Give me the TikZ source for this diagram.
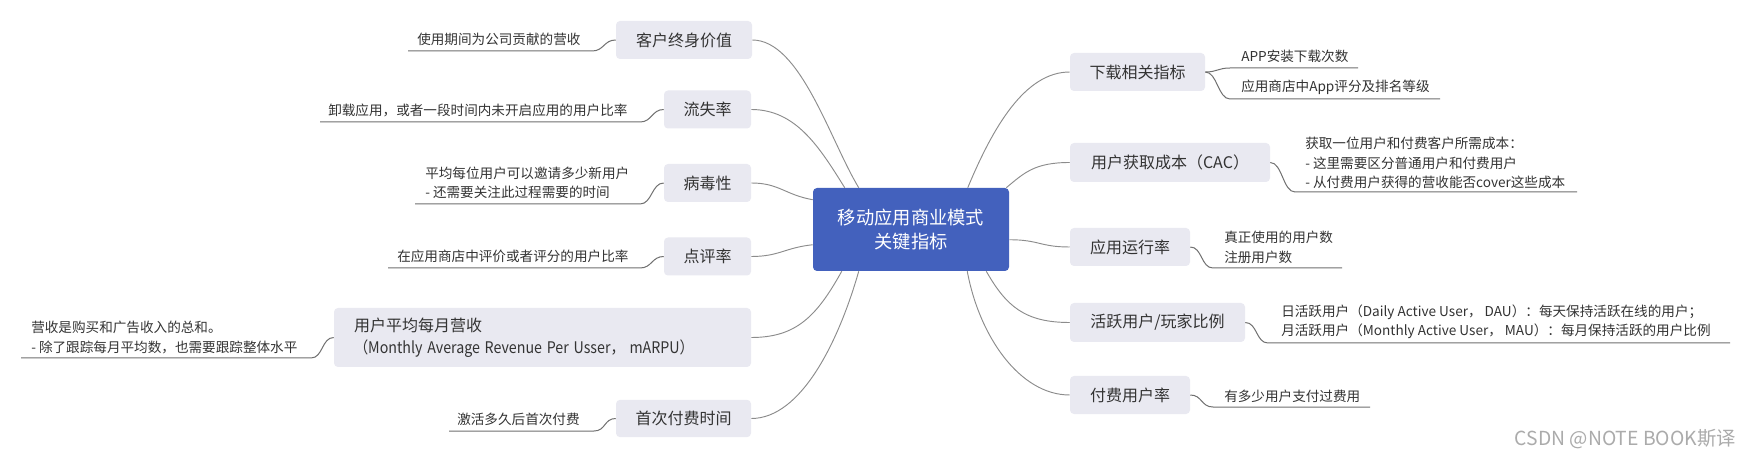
\documentclass[tikz,border=0pt]{standalone}
\usepackage{graphicx}
\usepackage{fontspec}
\setmainfont{Noto Sans CJK SC}
\usetikzlibrary{calc}
\definecolor{rootblue}{HTML}{4361BD}
\definecolor{topicfill}{HTML}{E9E9F1}
\definecolor{txt}{HTML}{333333}
\definecolor{conn}{HTML}{8C8C8C}
\definecolor{uline}{HTML}{707070}
\definecolor{wmgray}{HTML}{ABABAB}
\begin{document}
\begin{tikzpicture}[x=0.75pt,y=-0.75pt,
 root/.style={fill=rootblue, text=white, rounded corners=3pt, font=\fontsize{13.7}{18}\selectfont, align=center, minimum width=147pt, minimum height=62.25pt, inner sep=0pt},
 topic/.style={fill=topicfill, text=txt, rounded corners=3pt, font=\fontsize{12}{16.5}\selectfont, inner sep=0pt},
 leaf/.style={text=txt, anchor=west, inner sep=0pt, align=left, font=\fontsize{10.2}{14.5}\selectfont},
 branch/.style={draw=conn, line width=0.7pt},
 under/.style={draw=uline, line width=0.75pt}]
\useasboundingbox[fill=white] (0,0) rectangle (1752,459);

\node[root] (root) at (911,229.5) {移动应用商业模式\\关键指标};

% left topics
\node[topic, minimum width=102pt, minimum height=28.5pt] (ltv) at (684,40) {客户终身价值};
\node[topic, minimum width=65.25pt, minimum height=28.5pt] (churn) at (707.5,109.5) {流失率};
\node[topic, minimum width=65.25pt, minimum height=28.5pt] (viral) at (707.5,183) {病毒性};
\node[topic, minimum width=65.25pt, minimum height=28.5pt] (review) at (707.5,256.5) {点评率};
\node[topic, minimum width=312.75pt, minimum height=44.25pt, inner xsep=15pt, text width=282.75pt, align=left] (arpu) at (542.5,337.5) {用户平均每月营收\\\scalebox{0.89}[1]{（Monthly Average Revenue Per Usser， mARPU）}};
\node[topic, minimum width=101.25pt, minimum height=28pt] (first) at (683.5,418.5) {首次付费时间};

% right topics
\node[topic, minimum width=101.25pt, minimum height=28.5pt] (download) at (1137.5,72) {下载相关指标};
\node[topic, minimum width=150pt, minimum height=29.25pt] (cac) at (1170,162.5) {用户获取成本（CAC）};
\node[topic, minimum width=90pt, minimum height=28.5pt] (run) at (1130,247) {应用运行率};
\node[topic, minimum width=131.25pt, minimum height=29.25pt] (active) at (1157.5,322.5) {活跃用户/玩家比例};
\node[topic, minimum width=90pt, minimum height=28.5pt] (payrate) at (1130,395) {付费用户率};

% leaves
\node[leaf] (l1) at (417,39) {使用期间为公司贡献的营收};
\node[leaf] (l2) at (328,110) {卸载应用，或者一段时间内未开启应用的用户比率};
\node[leaf] (l3) at (425,183) {平均每位用户可以邀请多少新用户\\- 还需要关注此过程需要的时间};
\node[leaf] (l4) at (397,256) {在应用商店中评价或者评分的用户比率};
\node[leaf] (l5) at (31,337.5) {营收是购买和广告收入的总和。\\- 除了跟踪每月平均数，也需要跟踪整体水平};
\node[leaf] (l6) at (457,419) {激活多久后首次付费};
\node[leaf] (r1a) at (1241,56) {APP安装下载次数};
\node[leaf] (r1b) at (1241,87) {应用商店中App评分及排名等级};
\node[leaf] (r2) at (1305,163) {获取一位用户和付费客户所需成本：\\- 这里需要区分普通用户和付费用户\\- 从付费用户获得的营收能否cover这些成本};
\node[leaf] (r3) at (1224,247.5) {真正使用的用户数\\注册用户数};
\node[leaf] (r4) at (1281,322) {日活跃用户（Daily Active User， DAU）：每天保持活跃在线的用户；\\月活跃用户（Monthly Active User， MAU）：每月保持活跃的用户比例};
\node[leaf] (r5) at (1224,396) {有多少用户支付过费用};

% underline coordinates
\coordinate (u1s) at (408,51);   \coordinate (u1e) at (592,51);
\coordinate (u2s) at (320,122);  \coordinate (u2e) at (640,122);
\coordinate (u3s) at (415,204);  \coordinate (u3e) at (640,204);
\coordinate (u4s) at (388,268);  \coordinate (u4e) at (640,268);
\coordinate (u5s) at (21,358);   \coordinate (u5e) at (311,358);
\coordinate (u6s) at (449,431);  \coordinate (u6e) at (594,431);
\coordinate (v1as) at (1230,68); \coordinate (v1ae) at (1358,68);
\coordinate (v1bs) at (1230,99); \coordinate (v1be) at (1440,99);
\coordinate (v2s) at (1295,192); \coordinate (v2e) at (1577,192);
\coordinate (v3s) at (1213,268); \coordinate (v3e) at (1342,268);
\coordinate (v4s) at (1268,343); \coordinate (v4e) at (1730,343);
\coordinate (v5s) at (1213,407); \coordinate (v5e) at (1370,407);

% leaf underlines
\draw[under] (ltv.west) .. controls +(-12,0) and +(12,0) .. (u1e) -- (u1s);
\draw[under] (churn.west) .. controls +(-12,0) and +(12,0) .. (u2e) -- (u2s);
\draw[under] (viral.west) .. controls +(-12,0) and +(12,0) .. (u3e) -- (u3s);
\draw[under] (review.west) .. controls +(-12,0) and +(12,0) .. (u4e) -- (u4s);
\draw[under] (arpu.west) .. controls +(-12,0) and +(12,0) .. (u5e) -- (u5s);
\draw[under] (first.west) .. controls +(-12,0) and +(12,0) .. (u6e) -- (u6s);
\draw[under] (download.east) .. controls +(12,0) and +(-12,0) .. (v1as) -- (v1ae);
\draw[under] (download.east) .. controls +(12,0) and +(-12,0) .. (v1bs) -- (v1be);
\draw[under] (cac.east) .. controls +(12,0) and +(-12,0) .. (v2s) -- (v2e);
\draw[under] (run.east) .. controls +(12,0) and +(-12,0) .. (v3s) -- (v3e);
\draw[under] (active.east) .. controls +(12,0) and +(-12,0) .. (v4s) -- (v4e);
\draw[under] (payrate.east) .. controls +(12,0) and +(-12,0) .. (v5s) -- (v5e);

% branches from root
\draw[branch] (ltv.east) .. controls +(48,0) and +(-29,-48) .. ($(root.north west)+(46,0)$);
\draw[branch] (churn.east) .. controls +(45,0) and +(-25,-40) .. ($(root.north west)+(32,0)$);
\draw[branch] (viral.east) .. controls +(28,0) and +(-28,-5) .. ($(root.north west)+(0,12)$);
\draw[branch] (review.east) .. controls +(28,0) and +(-28,3) .. ($(root.north west)+(0,57)$);
\draw[branch] (arpu.east) .. controls +(45,0) and +(-25,45) .. ($(root.south west)+(29,0)$);
\draw[branch] (first.east) .. controls +(50,0) and +(-20,70) .. ($(root.south west)+(46,0)$);
\draw[branch] (download.west) .. controls +(-45,0) and +(25,-60) .. ($(root.north west)+(155,0)$);
\draw[branch] (cac.west) .. controls +(-35,0) and +(18,-15) .. ($(root.north east)+(-3,0)$);
\draw[branch] (run.west) .. controls +(-30,0) and +(30,0) .. ($(root.north east)+(0,52)$);
\draw[branch] (active.west) .. controls +(-45,0) and +(20,35) .. ($(root.south east)+(-23,0)$);
\draw[branch] (payrate.west) .. controls +(-50,0) and +(12,65) .. ($(root.south east)+(-42,0)$);

\node[anchor=east, text=wmgray, inner sep=0pt, font=\fontsize{14.5}{16}\selectfont] (wm) at (1736,439) {CSDN @NOTE BOOK斯译};
\end{tikzpicture}
\end{document}
